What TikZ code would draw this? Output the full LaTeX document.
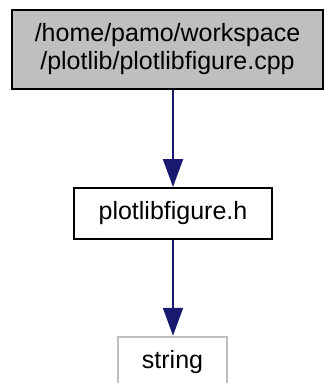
\documentclass[tikz,border=0pt]{standalone}
\usepackage{fontspec}
\setmainfont{Liberation Sans}
\usetikzlibrary{arrows.meta}
\definecolor{edgeblue}{HTML}{191970}
\definecolor{boxgrey}{HTML}{BFBFBF}
\tikzset{
  filebox/.style={draw=black, line width=2pt, rectangle, inner sep=0pt, align=center,
    font=\fontsize{25}{28}\selectfont},
  dep/.style={draw=edgeblue, line width=2pt, -{Triangle[width=20pt,length=28pt]}}
}
\begin{document}
\begin{tikzpicture}[x=1pt,y=-1pt]
\useasboundingbox (0,0) rectangle (324,383);
\node[filebox, fill=boxgrey, minimum width=311pt, minimum height=79pt] (cpp) at (167.5,49.5)
  {/home/pamo/workspace\\/plotlib/plotlibfigure.cpp};
\node[filebox, fill=white, minimum width=198pt, minimum height=51pt] (h) at (173,213.5)
  {plotlibfigure.h};
\node[filebox, draw=boxgrey, line width=2.5pt, fill=white, minimum width=109pt, minimum height=51pt] (str) at (172.5,362.5)
  {string};
\draw[dep] (cpp.south -| h.north) -- (h.north);
\draw[dep] (h.south) -- (str.north -| h.south);
\end{tikzpicture}
\end{document}
